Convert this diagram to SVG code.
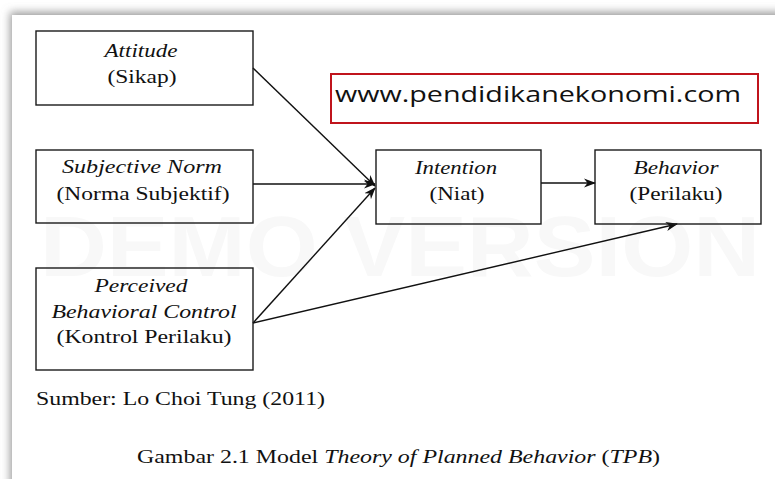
<svg xmlns="http://www.w3.org/2000/svg" width="775" height="479" viewBox="0 0 775 479">
  <style>
    .box { fill: none; stroke: #1a1a1a; stroke-width: 1.4; }
    .conn { stroke: #111111; stroke-width: 1.4; fill: none; marker-end: url(#arrow); }
    .serif { font-family: "Liberation Serif", "Times New Roman", serif; font-size: 19px; fill: #111111; text-anchor: middle; }
    .it { font-style: italic; }
    .url { font-family: "Open Sans", "Noto Sans", sans-serif; font-size: 21px; fill: #111111; }
    .wm { font-family: "Liberation Sans", Arial, sans-serif; font-weight: bold; font-size: 86px; fill: #f8f8f8; }
  </style>
  <defs>
    <filter id="shadow" x="-5%" y="-5%" width="110%" height="110%">
      <feDropShadow dx="-2" dy="-3" stdDeviation="4" flood-color="#8a8a8a" flood-opacity="0.85"/>
    </filter>
    <marker id="arrow" viewBox="0 0 12 10" refX="11" refY="5" markerWidth="12" markerHeight="10" markerUnits="userSpaceOnUse" orient="auto">
      <path d="M0,0.5 L12,5 L0,9.5 L3.5,5 z" fill="#111111"/>
    </marker>
  </defs>

  <rect x="0" y="0" width="775" height="479" fill="#ffffff"/>
  <rect x="12" y="15" width="790" height="480" fill="#ffffff" filter="url(#shadow)"/>

  <text class="wm" x="40" y="276" textLength="720" lengthAdjust="spacingAndGlyphs">DEMO VERSION</text>

  <g id="watermark-url">
    <rect x="331" y="74" width="427" height="49" fill="#ffffff" stroke="#c0141c" stroke-width="2"/>
    <text class="url" x="335" y="102" textLength="406" lengthAdjust="spacingAndGlyphs">www.pendidikanekonomi.com</text>
  </g>

  <g id="connectors">
    <line class="conn" x1="253" y1="68" x2="375" y2="186"/>
    <line class="conn" x1="253" y1="184" x2="375" y2="184"/>
    <line class="conn" x1="253" y1="323" x2="375" y2="188"/>
    <line class="conn" x1="541" y1="183" x2="595" y2="183"/>
    <line class="conn" x1="253" y1="323" x2="677" y2="224"/>
  </g>

  <g id="attitude">
    <rect class="box" x="36" y="31" width="217" height="74"/>
    <text class="serif it" x="141" y="57" textLength="73" lengthAdjust="spacingAndGlyphs">Attitude</text>
    <text class="serif" x="142" y="83" textLength="69" lengthAdjust="spacingAndGlyphs">(Sikap)</text>
  </g>

  <g id="subjective-norm">
    <rect class="box" x="36" y="150" width="217" height="73"/>
    <text class="serif it" x="142" y="173" textLength="160" lengthAdjust="spacingAndGlyphs">Subjective Norm</text>
    <text class="serif" x="143" y="200" textLength="173" lengthAdjust="spacingAndGlyphs">(Norma Subjektif)</text>
  </g>

  <g id="perceived-behavioral-control">
    <rect class="box" x="36" y="268" width="217" height="102"/>
    <text class="serif it" x="141" y="292" textLength="93" lengthAdjust="spacingAndGlyphs">Perceived</text>
    <text class="serif it" x="144" y="318" textLength="185" lengthAdjust="spacingAndGlyphs">Behavioral Control</text>
    <text class="serif" x="144" y="343" textLength="175" lengthAdjust="spacingAndGlyphs">(Kontrol Perilaku)</text>
  </g>

  <g id="intention">
    <rect class="box" x="376" y="150" width="165" height="74"/>
    <text class="serif it" x="456" y="174" textLength="82" lengthAdjust="spacingAndGlyphs">Intention</text>
    <text class="serif" x="457" y="200" textLength="55" lengthAdjust="spacingAndGlyphs">(Niat)</text>
  </g>

  <g id="behavior">
    <rect class="box" x="595" y="150" width="166" height="74"/>
    <text class="serif it" x="676" y="174" textLength="85" lengthAdjust="spacingAndGlyphs">Behavior</text>
    <text class="serif" x="676" y="200" textLength="93" lengthAdjust="spacingAndGlyphs">(Perilaku)</text>
  </g>

  <text class="serif" x="36" y="405" style="text-anchor:start" textLength="289" lengthAdjust="spacingAndGlyphs">Sumber: Lo Choi Tung (2011)</text>
  <text class="serif" x="137" y="463" style="text-anchor:start" textLength="523" lengthAdjust="spacingAndGlyphs">Gambar 2.1 Model <tspan class="it">Theory of Planned Behavior</tspan> (<tspan class="it">TPB</tspan>)</text>
</svg>
